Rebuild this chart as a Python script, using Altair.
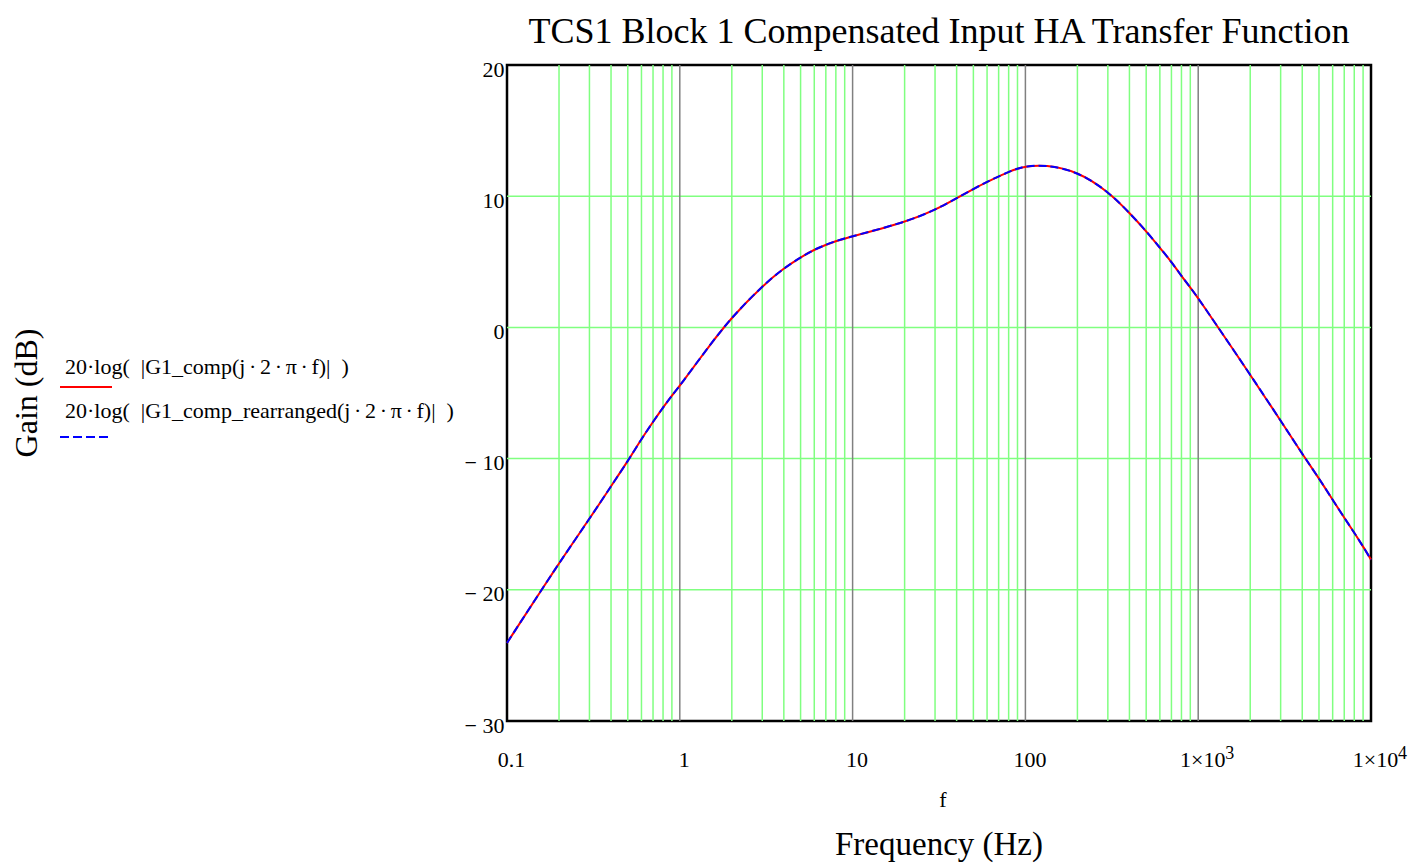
import altair as alt
import pandas as pd

# ---- data ----
freq = [0.1, 0.2, 0.3, 0.4, 0.5, 0.6, 0.7, 0.8, 0.9, 1, 1.5, 2, 3, 4, 5, 6, 8, 10,
        20, 30, 40, 50, 60, 70, 80, 90, 100, 130, 200, 300, 400, 500, 600, 700,
        800, 900, 1000, 2000, 3000, 4000, 5000, 6000, 7000, 8000, 9000, 10000]
gain_db = [-24.05, -17.95, -14.6, -12.1, -10.2, -8.5, -7.2, -6.1, -5.2, -4.45,
           -1.3, 0.78, 3.16, 4.52, 5.33, 5.95, 6.6, 6.95,
           8.0, 8.94, 9.85, 10.55, 11.1, 11.5, 11.85, 12.1, 12.28, 12.4, 11.9,
           10.38, 8.74, 7.34, 6.08, 4.99, 3.92, 3.04, 2.25, -3.6, -7.1, -9.65,
           -11.5, -13.15, -14.5, -15.65, -16.7, -17.7]

SP = "\u2002"   # en space (SVG collapses ordinary double spaces)
TH = "\u2006"   # six-per-em space around the operator dots
series_names = [
    f"20·log({SP}|G1_comp(j{TH}·{TH}2{TH}·{TH}π{TH}·{TH}f)|{SP})",
    f"20·log({SP}|G1_comp_rearranged(j{TH}·{TH}2{TH}·{TH}π{TH}·{TH}f)|{SP})",
]

title_text = "TCS1 Block 1 Compensated Input HA Transfer Function"
x_title = "Frequency (Hz)"
x_var = "f"
y_title = "Gain (dB)"

x_ticks = [0.1, 1, 10, 100, 1000, 10000]
x_tick_text = ["0.1", "1", "10", "100", "1×10", "1×10"]
x_exp_vals = [1000, 10000]
x_exp_text = ["3", "4"]

y_ticks = [20, 10, 0, -10, -20, -30]
y_tick_text = ["20", "10", "0", "− 10", "− 20", "− 30"]

decade_lines = [1, 10, 100, 1000]
minor_mult = [2, 3, 4, 5, 6, 7, 8, 9]
decade_starts = [0.1, 1, 10, 100, 1000]
minor_lines = [round(m * d, 6) for d in decade_starts for m in minor_mult]
y_grid = [10, 0, -10, -20]

FONT = "Liberation Serif"
W, H = 864, 656


def label_expr(vals, texts):
    expr = "''"
    for v, t in reversed(list(zip(vals, texts))):
        expr = f"datum.value == {v} ? '{t}' : ({expr})"
    return expr


xs = alt.Scale(type="log", domain=[0.1, 10000], nice=False)
ys = alt.Scale(domain=[-30, 20], nice=False, zero=False)

x_axis = alt.Axis(values=x_ticks, labelExpr=label_expr(x_ticks, x_tick_text),
                  labelFont=FONT, labelFontSize=22, labelColor="black",
                  labelPadding=28, labelOffset=4, ticks=False, domain=False,
                  grid=False, labelFlush=False, labelOverlap=False, title=None)
y_axis = alt.Axis(values=y_ticks, labelExpr=label_expr(y_ticks, y_tick_text),
                  labelFont=FONT, labelFontSize=22, labelColor="black",
                  labelPadding=3, labelOffset=4, ticks=False, domain=False,
                  grid=False, labelFlush=False, labelOverlap=False, title=None)

X = lambda: alt.X("f:Q", scale=xs, axis=x_axis, title=None)
Y = lambda: alt.Y("g:Q", scale=ys, axis=y_axis, title=None)

curve = pd.DataFrame({"f": freq, "g": gain_db})

minor_grid = alt.Chart(pd.DataFrame({"f": minor_lines})).mark_rule(
    color="#80ff80", strokeWidth=1.5
).encode(x=X())

hgrid = alt.Chart(pd.DataFrame({"g": y_grid})).mark_rule(
    color="#80ff80", strokeWidth=1.5
).encode(y=Y())

major_grid = alt.Chart(pd.DataFrame({"f": decade_lines})).mark_rule(
    color="#808080", strokeWidth=1.5
).encode(x=X())

red = alt.Chart(curve).mark_line(color="#ff0000", strokeWidth=2, interpolate="basis").encode(
    x=X(), y=Y()
)

blue = alt.Chart(curve).mark_line(color="#0000ff", strokeWidth=2, strokeDash=[8, 4],
                                  interpolate="basis").encode(x=X(), y=Y())

sup = alt.Chart(pd.DataFrame({"f": x_exp_vals, "t": x_exp_text})).mark_text(
    font=FONT, fontSize=18, align="left", baseline="top", dx=27, color="black"
).encode(x=X(), y=alt.value(H + 24), text="t:N")

title = alt.Chart(pd.DataFrame({"t": [title_text]})).mark_text(
    font=FONT, fontSize=36, align="center", baseline="alphabetic", color="black"
).encode(x=alt.value(W / 2), y=alt.value(-22), text="t:N")

xvar = alt.Chart(pd.DataFrame({"t": [x_var]})).mark_text(
    font=FONT, fontSize=22, align="center", baseline="alphabetic", color="black"
).encode(x=alt.value(W / 2 + 4), y=alt.value(742), text="t:N")

xtitle = alt.Chart(pd.DataFrame({"t": [x_title]})).mark_text(
    font=FONT, fontSize=33, align="center", baseline="alphabetic", color="black"
).encode(x=alt.value(W / 2), y=alt.value(790), text="t:N")

ytitle = alt.Chart(pd.DataFrame({"t": [y_title]})).mark_text(
    font=FONT, fontSize=32, align="center", baseline="middle", angle=270, color="black"
).encode(x=alt.value(-480), y=alt.value(328), text="t:N")

leg1 = alt.Chart(pd.DataFrame({"t": [series_names[0]]})).mark_text(
    font=FONT, fontSize=22, align="left", baseline="middle", color="black"
).encode(x=alt.value(-442), y=alt.value(302), text="t:N")

leg2 = alt.Chart(pd.DataFrame({"t": [series_names[1]]})).mark_text(
    font=FONT, fontSize=22, align="left", baseline="middle", color="black"
).encode(x=alt.value(-442), y=alt.value(346), text="t:N")

leg1_line = alt.Chart(pd.DataFrame({"t": [series_names[0]]})).mark_rule(
    color="#ff0000", strokeWidth=2
).encode(x=alt.value(-447), x2=alt.value(-395), y=alt.value(322))

leg2_line = alt.Chart(pd.DataFrame({"t": [series_names[1]]})).mark_rule(
    color="#0000ff", strokeWidth=2, strokeDash=[9, 4]
).encode(x=alt.value(-447), x2=alt.value(-395), y=alt.value(372))

chart = alt.layer(
    minor_grid, hgrid, major_grid, red, blue, sup, title, xvar, xtitle, ytitle,
    leg1, leg2, leg1_line, leg2_line
).properties(
    width=W, height=H,
    autosize=alt.AutoSizeParams(type="none"),
    padding={"left": 507, "top": 65, "right": 1410 - 507 - W, "bottom": 863 - 65 - H},
    background="white",
).configure_view(stroke="black", strokeWidth=2.5)

chart.save("out.html", embed_options={"renderer": "svg", "actions": False})
